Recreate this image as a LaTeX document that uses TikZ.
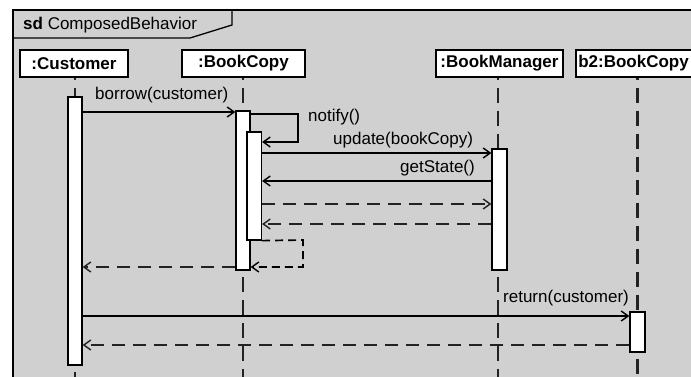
\documentclass[tikz,border=0pt]{standalone}
\usepackage{fontspec}
\setmainfont{Liberation Sans}
\usetikzlibrary{arrows.meta}
\definecolor{framebg}{RGB}{208,208,208}
\definecolor{ink}{RGB}{34,34,34}
\begin{document}
\begin{tikzpicture}[x=1pt,y=-1pt,
  txt/.style={font=\fontsize{17}{20}\selectfont, inner sep=0pt},
  head/.style={draw=black, line width=1.5pt, fill=white, inner sep=0pt,
    minimum height=27pt, font=\fontsize{17}{20}\selectfont\bfseries},
  bar/.style={draw=black, line width=1.3pt, fill=white, inner sep=0pt},
  lifeline/.style={draw=ink, line width=2.3pt, dash pattern=on 15pt off 8pt},
  tip/.style={-{Straight Barb[length=7pt,width=10pt,line width=1.4pt]}},
  call/.style={draw=black, line width=1.3pt, tip},
  reply/.style={draw=ink, line width=2.2pt, dash pattern=on 13pt off 8pt, tip},
  selfreply/.style={draw=black, line width=1.7pt, dash pattern=on 8pt off 5pt, tip}
]
\useasboundingbox (0,0) rectangle (691,377);
\clip (0,0) rectangle (691,377);
\fill[white] (0,0) rectangle (691,377);

% diagram frame and its name tab
\fill[framebg] (13,10) rectangle (710,400);
\draw[line width=1.5pt] (710,10) -- (13,10) -- (13,400);
\draw[line width=1.3pt] (13,38) -- (190,38) -- (232,25) -- (232,10);
\node[txt, anchor=base west] (title) at (23,30) {\textbf{sd} ComposedBehavior};

% lifeline heads
\node[head, minimum width=108pt] (cust) at (74,63.5) {:Customer};
\node[head, minimum width=123pt] (copy) at (243.5,63.5) {:BookCopy};
\node[head, minimum width=127pt] (mgr) at (499.5,63.5) {:BookManager};
\node[head, anchor=west, inner xsep=2.5pt, text width=120pt, align=left] (copytwo) at (575,63.5) {b2:BookCopy};

% lifelines, drawn first so the activation bars cover them
\coordinate (cbTop) at (75,97);
\coordinate (cbBot) at (75,365);
\coordinate (bc1Top) at (243,111);
\coordinate (bc1Bot) at (243,270);
\coordinate (bmTop) at (498,149);
\coordinate (bmBot) at (498,270);
\coordinate (bbTop) at (637.5,312);
\coordinate (bbBot) at (637.5,352);
\draw[lifeline, dash phase=13pt] (cbTop |- cust.south) -- (cbTop);
\draw[lifeline, dash phase=16pt] (cbBot) -- (75,400);
\draw[lifeline, dash phase=13pt] (bc1Top |- copy.south) -- (bc1Top);
\draw[lifeline, dash phase=16pt] (bc1Bot) -- (243,400);
\draw[lifeline, dash phase=13pt] (bmTop |- mgr.south) -- (bmTop);
\draw[lifeline, dash phase=16pt] (bmBot) -- (498,400);
\draw[lifeline, dash phase=13pt] (bbTop |- copytwo.south) -- (bbTop);
\draw[lifeline, dash phase=16pt] (bbBot) -- (637.5,400);

% activation bars
\node[bar, minimum width=14pt, minimum height=268pt] (cb) at (75,231) {};
\node[bar, minimum width=14pt, minimum height=159pt] (bc1) at (243,190.5) {};
\node[bar, minimum width=14.5pt, minimum height=108pt] (bc2) at (254.2,186) {};
\node[bar, minimum width=15pt, minimum height=121pt] (bm) at (499.5,209.5) {};
\node[bar, minimum width=15pt, minimum height=40pt] (bb) at (637.5,332) {};

% messages
\draw[call] (cb.east |- 0,112) -- (bc1.west |- 0,112);
\node[txt, anchor=base west] (lborrow) at (95,100) {borrow(customer)};

\coordinate (nA) at (298,114);
\coordinate (nB) at (298,142);
\draw[call] (bc1.east |- nA) -- (nA) -- (nB) -- (bc2.east |- nB);
\node[txt, anchor=base west] (lnotify) at (308,122) {notify()};

\draw[call] (bc2.east |- 0,153) -- (bm.west |- 0,153);
\node[txt, anchor=base west] (lupdate) at (333,145) {update(bookCopy)};

\draw[call] (bm.west |- 0,181) -- (bc2.east |- 0,181);
\node[txt, anchor=base east] (lstate) at (475,172) {getState()};

\draw[reply] (bc2.east |- 0,204) -- (bm.west |- 0,204);
\draw[reply] (bm.west |- 0,224) -- (bc2.east |- 0,224);

\coordinate (rA) at (303,240);
\coordinate (rB) at (303,267);
\draw[selfreply] (bc2.south east) -- (rA) -- (rB) -- (bc1.east |- rB);

\draw[reply] (bc1.west |- 0,267) -- (cb.east |- 0,267);

\draw[call] (cb.east |- 0,316) -- (bb.west |- 0,316);
\node[txt, anchor=base west] (lreturn) at (503,302) {return(customer)};

\draw[reply] (bb.west |- 0,345) -- (cb.east |- 0,345);
\end{tikzpicture}
\end{document}
